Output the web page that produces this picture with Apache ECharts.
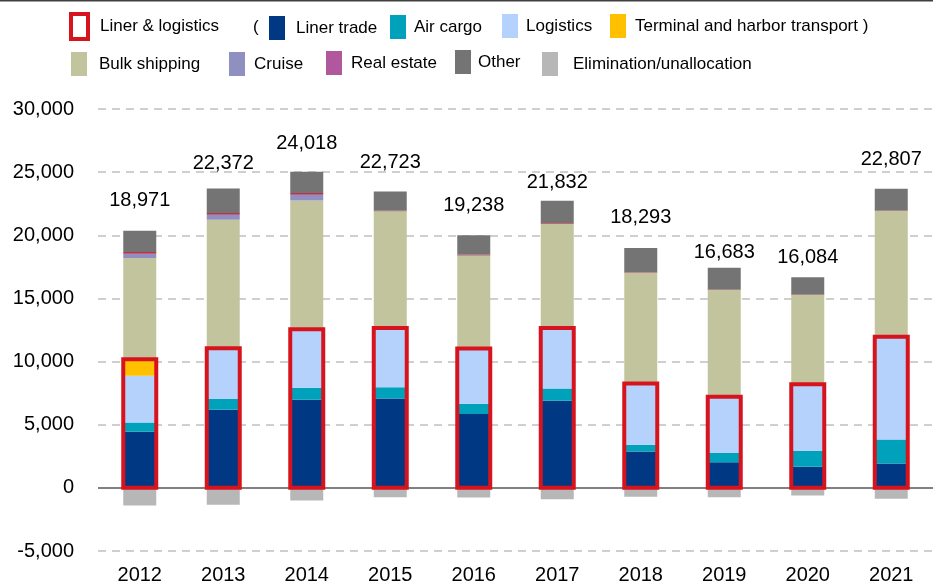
<!DOCTYPE html>
<html>
<head>
<meta charset="utf-8">
<script src="https://cdn.jsdelivr.net/npm/echarts@6/dist/echarts.min.js"></script>
<style>
    html, body { margin: 0; padding: 0; background: #fff; }
    #chart { width: 933px; height: 585px; }
</style>
</head>
<body>
<div id="chart"></div>
<script>
var years = ['2012', '2013', '2014', '2015', '2016', '2017', '2018', '2019', '2020', '2021'];
var linerTrade = [4450, 6180, 6970, 7080, 5840, 6890, 2870, 2030, 1680, 1920];
var airCargo = [730, 850, 950, 890, 820, 980, 550, 730, 1240, 1900];
var logistics = [3690, 4020, 4630, 4690, 4370, 4790, 4840, 4450, 5290, 8150];
var terminal = [1310, 0, 0, 0, 0, 0, 0, 0, 0, 0];
var bulkShipping = [8030, 10190, 10210, 9240, 7370, 8260, 8770, 8450, 7060, 9950];
var cruise = [320, 390, 450, 0, 0, 0, 0, 0, 0, 0];
var realEstate = [150, 130, 130, 50, 50, 50, 50, 50, 50, 50];
var other = [1680, 1950, 1690, 1520, 1550, 1770, 1920, 1710, 1360, 1710];
var elimination = [-1390, -1340, -1010, -747, -760, -908, -710, -740, -600, -870];
var totals = [18971, 22372, 24018, 22723, 19238, 21832, 18293, 16683, 16084, 22807];

// gap between bar top and total label (px)
var totalLabelGap = [20, 15, 18, 19, 20, 8, 20, 5, 10, 19];

var FONT = '"Liberation Sans", Arial, sans-serif';
var RED = '#d7141e';

// liner & logistics box = liner trade + air cargo + logistics + terminal
var boxData = [];
for (var i = 0; i < years.length; i++) {
    boxData.push([years[i], linerTrade[i] + airCargo[i] + logistics[i] + terminal[i]]);
}

function fmt(n) {
    return String(n).replace(/\B(?=(\d{3})+(?!\d))/g, ',');
}

function barSeries(name, data, color) {
    return {
        name: name,
        type: 'bar',
        stack: 'all',
        barWidth: 33,
        data: data,
        itemStyle: { color: color },
        emphasis: { disabled: true }
    };
}

// legend, one component per item so each sits where it does in the picture
function legendAt(name, left, top, pad, style, w, h) {
    var item = { name: name, icon: 'rect' };
    if (style) item.itemStyle = style;
    return {
        left: left,
        top: top,
        padding: 0,
        itemWidth: w || 16,
        itemHeight: h || 24,
        selectedMode: false,
        data: [item],
        textStyle: { fontFamily: FONT, fontSize: 17, color: '#000', padding: [0, 0, 0, pad] }
    };
}

var series = [
    barSeries('Liner trade', linerTrade, '#013884'),
    barSeries('Air cargo', airCargo, '#00A1BA'),
    barSeries('Logistics', logistics, '#B4D2FC'),
    barSeries('Terminal and harbor transport )', terminal, '#FFC000'),
    barSeries('Bulk shipping', bulkShipping, '#C2C49E'),
    barSeries('Cruise', cruise, '#8F8FC1'),
    barSeries('Real estate', realEstate, '#B8344E'),
    barSeries('Other', other, '#747474'),
    barSeries('Elimination/unallocation', elimination, '#B7B7B7')
];

// totals above the positive stack
series[7].label = {
    show: true,
    position: 'top',
    fontFamily: FONT,
    fontSize: 20,
    color: '#000',
    formatter: function (p) { return fmt(totals[p.dataIndex]); }
};
series[7].data = other.map(function (v, i) {
    return { value: v, label: { distance: totalLabelGap[i] } };
});

// zero line
series[8].markLine = {
    silent: true,
    symbol: 'none',
    label: { show: false },
    lineStyle: { color: '#808080', width: 2, type: 'solid' },
    data: [{ yAxis: 0 }]
};

// red outline around the liner & logistics part
series.push({
    name: 'Liner & logistics',
    type: 'custom',
    z: 5,
    data: boxData,
    itemStyle: { color: RED },
    renderItem: function (params, api) {
        var p0 = api.coord([api.value(0), 0]);
        var p1 = api.coord([api.value(0), api.value(1)]);
        return {
            type: 'rect',
            shape: { x: p0[0] - 16.5, y: p1[1], width: 33, height: p0[1] - p1[1] },
            style: { fill: 'none', stroke: RED, lineWidth: 4 }
        };
    }
});

var myChart = echarts.init(document.getElementById('chart'));
var option = {
    animation: false,
    backgroundColor: '#fff',
    grid: { left: 98, top: 109, width: 838, bottom: 33 },
    legend: [
        legendAt('Liner & logistics', 69, 12, 5, { color: 'rgba(0,0,0,0)', borderWidth: 0 }, 21, 29),
        legendAt('Liner trade', 269, 16, 6),
        legendAt('Air cargo', 390, 15, 3),
        legendAt('Logistics', 502, 14, 3),
        legendAt('Terminal and harbor transport )', 610, 14, 4),
        legendAt('Bulk shipping', 71, 52, 7),
        legendAt('Cruise', 229, 52, 4),
        legendAt('Real estate', 326, 51, 4, { color: '#B0579E' }),
        legendAt('Other', 455, 50, 2),
        legendAt('Elimination/unallocation', 542, 52, 10)
    ],
    graphic: [
        { type: 'rect', left: 0, top: 0, shape: { width: 933, height: 1.5 }, style: { fill: '#404040' } },
        // outline icon for "Liner & logistics"
        { type: 'rect', shape: { x: 71, y: 14, width: 17, height: 25 }, style: { fill: '#fff', stroke: RED, lineWidth: 4 } },
        { type: 'text', left: 253, top: 19, style: { text: '(', font: '17px ' + FONT, fill: '#000' } }
    ],
    xAxis: {
        type: 'category',
        data: years,
        position: 'bottom',
        axisLine: { show: false, onZero: false },
        axisTick: { show: false },
        axisLabel: { fontFamily: FONT, fontSize: 20, color: '#000', margin: 14 }
    },
    yAxis: {
        type: 'value',
        min: -5000,
        max: 30000,
        interval: 5000,
        axisLine: { show: false },
        axisTick: { show: false },
        axisLabel: { fontFamily: FONT, fontSize: 20, color: '#000', margin: 24 },
        splitLine: { lineStyle: { color: '#C0C0C0', width: 1.5, type: [8, 6] } }
    },
    series: series
};
myChart.setOption(option);
</script>
</body>
</html>
